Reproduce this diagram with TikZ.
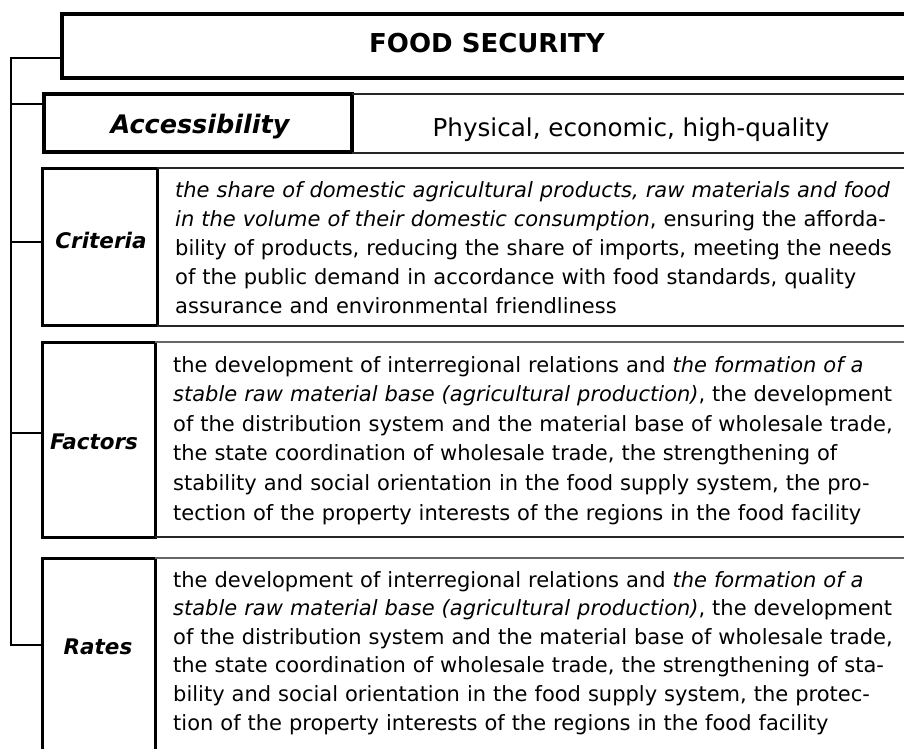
\documentclass[tikz,border=0pt]{standalone}
\usepackage{fontspec}
\setmainfont{DejaVu Sans}[BoldFont={DejaVu Sans Bold},ItalicFont={DejaVu Sans Oblique},BoldItalicFont={DejaVu Sans Bold Oblique}]
\begin{document}
\begin{tikzpicture}[x=1pt,y=-1pt,
  thickbox/.style={draw, line width=3.2pt, inner sep=0pt, outer sep=0pt, anchor=north west},
  labelbox/.style={thickbox, line width=3pt},
  conn/.style={line width=2pt, line cap=rect},
  cellline/.style={line width=1.4pt, black!85},
  grayline/.style={line width=1.6pt, black!60},
  titletext/.style={font=\fontsize{26}{30}\selectfont\bfseries, anchor=base, inner sep=0pt},
  labeltext/.style={font=\fontsize{21.5}{26}\selectfont\bfseries\itshape, anchor=base, inner sep=0pt},
  bodytext/.style={font=\fontsize{21}{29}\selectfont, anchor=base west, inner sep=0pt, text width=760pt, align=left}]
\useasboundingbox (0,0) rectangle (904,748);
\clip (0,0) rectangle (904,748);

% boxes
\node[thickbox, minimum width=850pt, minimum height=64pt] (titlebox) at (62,14) {};
\node[thickbox, minimum width=308pt, minimum height=58pt] (accbox) at (44,94) {};
\node[labelbox, minimum width=115pt, minimum height=157pt] (critbox) at (42,168) {};
\node[labelbox, minimum width=113pt, minimum height=195pt] (factbox) at (42,342) {};
\node[labelbox, minimum width=113pt, minimum height=220pt] (ratebox) at (42,558) {};

% cell lines
\draw[cellline] (accbox.north east) -- ++(600,0);
\draw[cellline] ([yshift=-1pt]accbox.south east) -- ++(600,0);
\draw[cellline] (critbox.north east) -- ++(800,0);
\draw[cellline] ([yshift=-1pt]critbox.south east) -- ++(800,0);
\draw[grayline] (factbox.north east) -- ++(800,0);
\draw[cellline] (factbox.south east) -- ++(800,0);
\draw[grayline] (ratebox.north east) -- ++(800,0);

% spine and connectors
\coordinate (s1) at (11,58);
\coordinate (s2) at (11,104);
\coordinate (s3) at (11,242);
\coordinate (s4) at (11,433);
\coordinate (s5) at (11,645);
\draw[conn] (s1) -- (s5);
\draw[conn] (s1) -- (s1 -| titlebox.west);
\draw[conn] (s2) -- (s2 -| accbox.west);
\draw[conn] (s3) -- (s3 -| critbox.west);
\draw[conn] (s4) -- (s4 -| factbox.west);
\draw[conn] (s5) -- (s5 -| ratebox.west);

% texts
\node[titletext] (title) at (487,52) {FOOD SECURITY};
\node[labeltext, font=\fontsize{25.5}{30}\selectfont\bfseries\itshape] (acc) at (200,133) {Accessibility};
\node[font=\fontsize{24.6}{30}\selectfont, anchor=base, inner sep=0pt] (acctext) at (631,136) {Physical, economic, high-quality};

\node[labeltext] (crit) at (101,248) {Criteria};
\node[labeltext] (fact) at (94,449) {Factors};
\node[labeltext] (rate) at (98,654) {Rates};

\node[bodytext] (crittext) at (175,197) {\textit{the share of domestic agricultural products, raw materials and food}\\
\textit{in the volume of their domestic consumption}, ensuring the afforda-\\
bility of products, reducing the share of imports, meeting the needs\\
of the public demand in accordance with food standards, quality\\
assurance and environmental friendliness};

\node[bodytext, font=\fontsize{21}{29.6}\selectfont] (facttext) at (173,372) {the development of interregional relations and \textit{the formation of a}\\
\textit{stable raw material base (agricultural production)}, the development\\
of the distribution system and the material base of wholesale trade,\\
the state coordination of wholesale trade, the strengthening of\\
stability and social orientation in the food supply system, the pro-\\
tection of the property interests of the regions in the food facility};

\node[bodytext, font=\fontsize{21}{28.6}\selectfont] (ratetext) at (173,587) {the development of interregional relations and \textit{the formation of a}\\
\textit{stable raw material base (agricultural production)}, the development\\
of the distribution system and the material base of wholesale trade,\\
the state coordination of wholesale trade, the strengthening of sta-\\
bility and social orientation in the food supply system, the protec-\\
tion of the property interests of the regions in the food facility};
\end{tikzpicture}
\end{document}
